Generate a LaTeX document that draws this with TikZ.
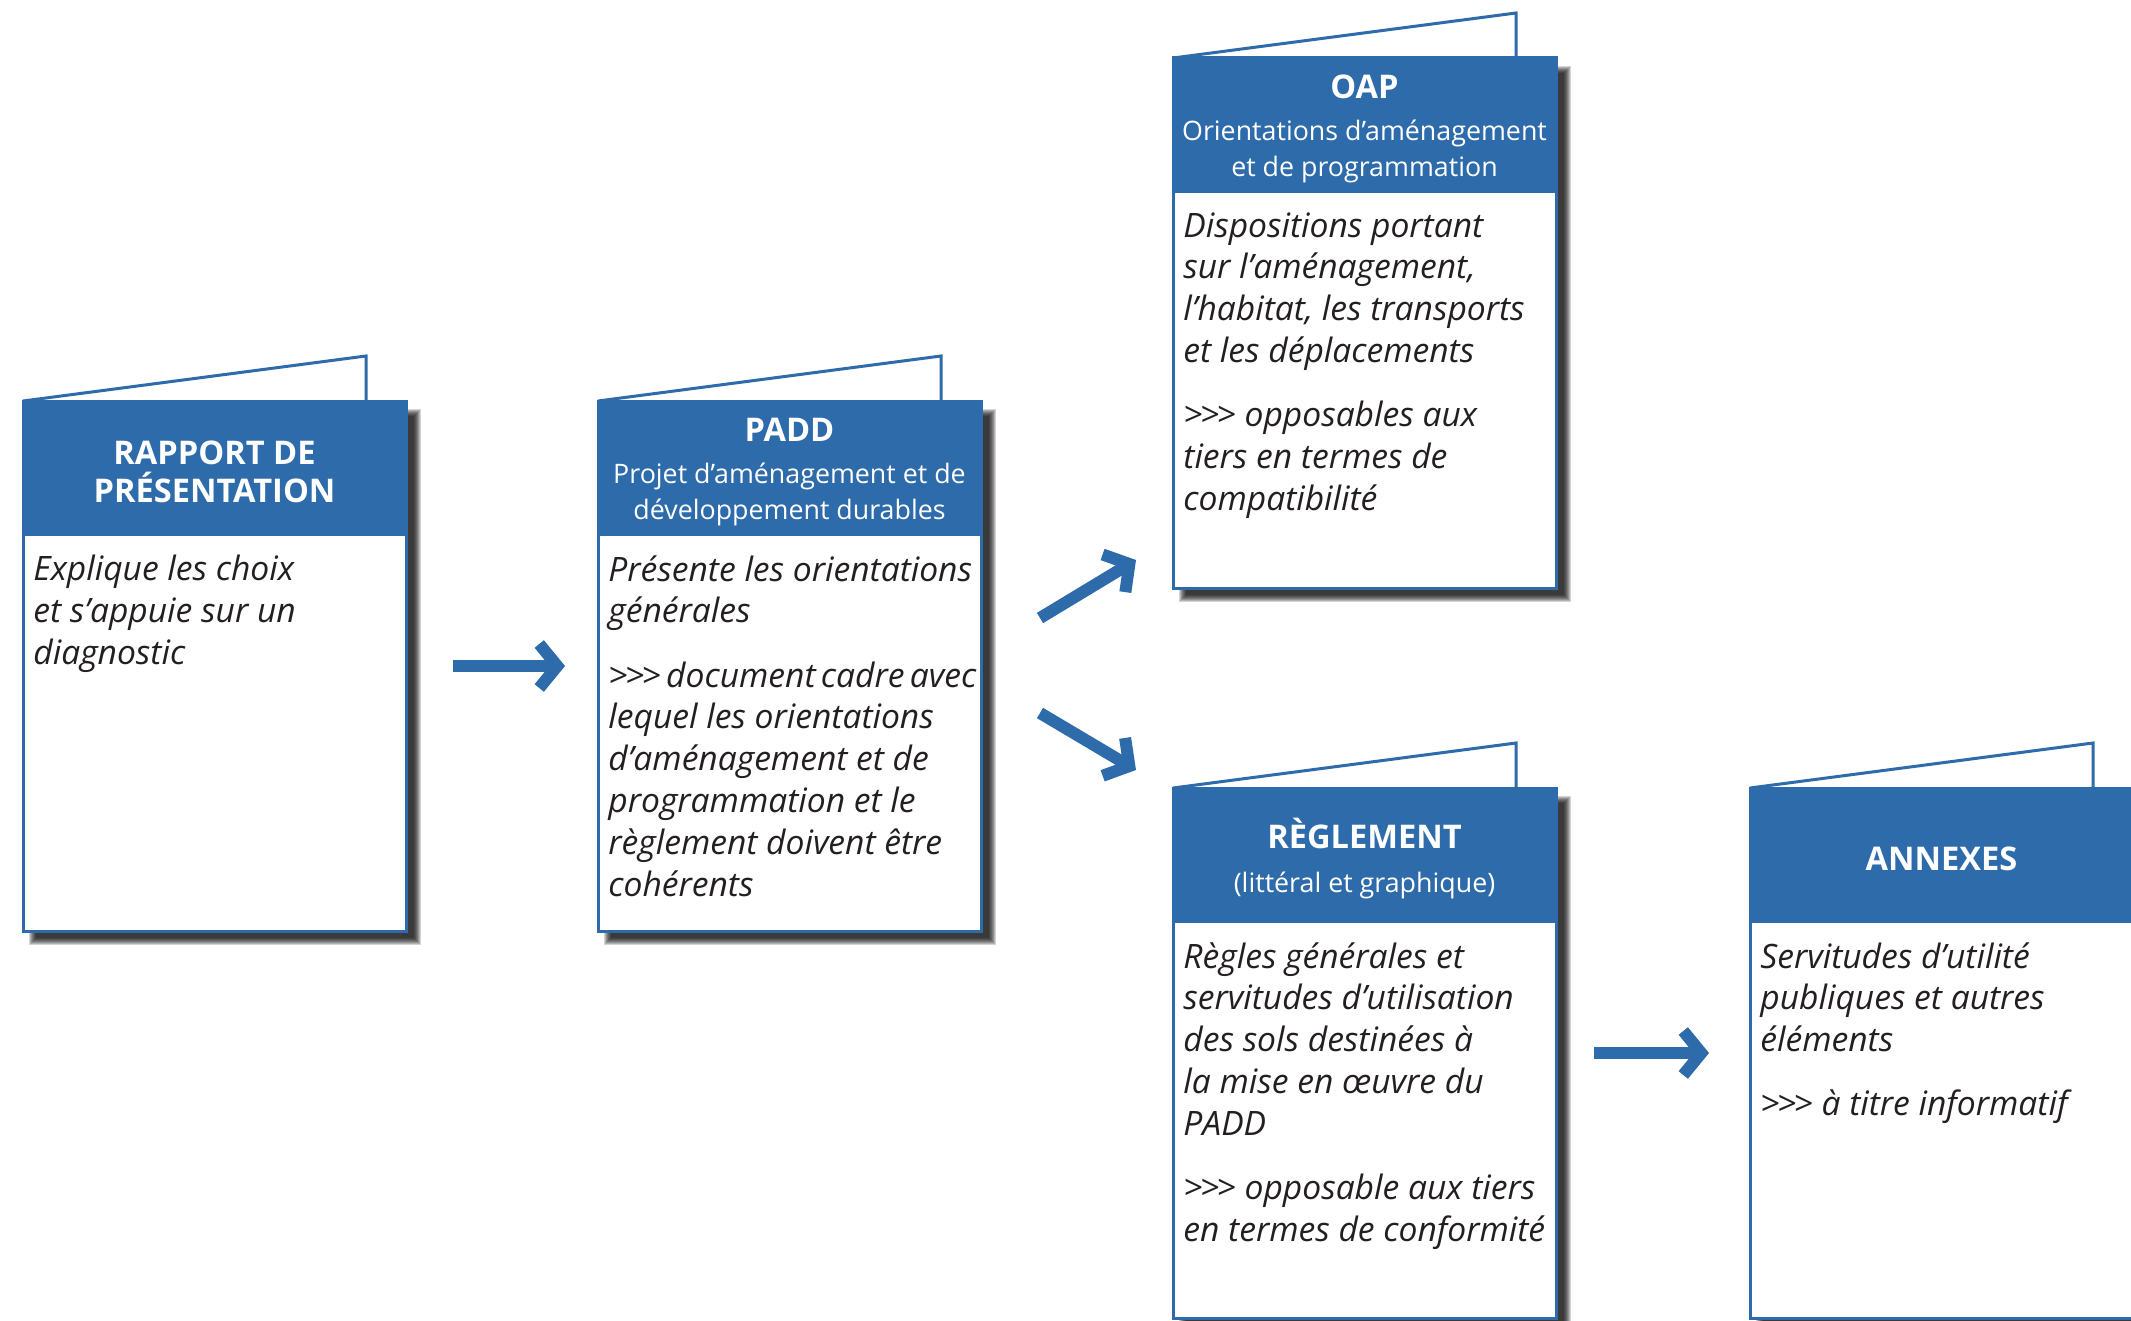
\documentclass[tikz,border=0pt]{standalone}
\usepackage{fontspec}
\setmainfont{Open Sans}
\usetikzlibrary{arrows.meta,calc}
\definecolor{myblue}{RGB}{46,107,170}
\definecolor{textgray}{RGB}{35,31,32}
\newcommand\hbig{\fontsize{16.3pt}{19pt}\selectfont\bfseries}
\newcommand\hsmall{\fontsize{13.4pt}{17.7pt}\selectfont\mdseries}
\newcommand\gtrs{>\kern-1.3pt>\kern-1.3pt>}
\newcommand\tsp{\hspace{0.16em}}
\newcommand\cardshadow[4]{%
  \foreach \k in {0,...,7}{\fill[black,opacity=0.17] (#1+6+\k,#2+8+\k) rectangle (#3+15-\k,#4+14-\k);}}
\newcommand\drawcard[5]{%
  \cardshadow{#2}{#3}{#2+383}{#3+530}
  \draw[flap] (#2,#3) -- (#2+343,#3-45) -- (#2+343,#3);
  \node[card] (#1) at (#2,#3) {};
  \node[head] (#1head) at (#2-1.5,#3-1.5) {};
  \node[headtext] (#1title) at ($(#1head.center)+(0,4)$) {#4};
  \node[body] (#1text) at (#2+10,#3+154) {#5};
}
\begin{document}
\begin{tikzpicture}[x=0.5pt,y=-0.5pt,
  card/.style={draw=myblue,line width=1.5pt,fill=white,inner sep=0pt,outer sep=0pt,anchor=north west,minimum width=191.5pt,minimum height=265pt},
  head/.style={fill=myblue,inner sep=0pt,outer sep=0pt,anchor=north west,minimum width=193pt,minimum height=68.25pt},
  headtext/.style={text=white,inner sep=0pt,align=center,font=\hbig},
  flap/.style={draw=myblue,line width=1.5pt,fill=white,line join=miter},
  body/.style={anchor=north west,inner sep=0pt,align=left,text=textgray,font=\fontsize{16.8pt}{20.9pt}\selectfont\itshape},
  bigarrow/.style={draw=myblue,line width=6pt,-{Straight Barb[length=9pt,width=22pt]}},
]
\useasboundingbox (0,0) rectangle (2131,1321);
\clip (0,0) rectangle (2131,1321);

\drawcard{rapport}{23}{401}{RAPPORT DE\\PRÉSENTATION}{Explique les choix\\et s’appuie sur un\\diagnostic}
\drawcard{padd}{598}{401}{PADD\\[2pt]\hsmall Projet d’aménagement et de\\[-1pt]\hsmall développement durables}{Présente les orientations\\générales\\[11.2pt]\gtrs\tsp document\tsp cadre\tsp avec\\lequel les orientations\\d’aménagement et de\\programmation et le\\règlement doivent être\\cohérents}
\drawcard{oap}{1173}{58}{OAP\\[2pt]\hsmall Orientations d’aménagement\\[-1pt]\hsmall et de programmation}{Dispositions portant\\sur l’aménagement,\\l’habitat, les transports\\et les déplacements\\[11.2pt]\gtrs{} opposables aux\\tiers en termes de\\compatibilité}
\drawcard{reglement}{1173}{788}{RÈGLEMENT\\[3pt]\hsmall (littéral et graphique)}{Règles générales et\\servitudes d’utilisation\\des sols destinées à\\la mise en œuvre du\\PADD\\[11.2pt]\gtrs{} opposable aux tiers\\en termes de conformité}
\drawcard{annexes}{1750}{788}{ANNEXES}{Servitudes d’utilité\\publiques et autres\\éléments\\[11.2pt]\gtrs{} à titre informatif}

\coordinate (upstart) at (1040,618);
\coordinate (upend) at (1136,560);
\coordinate (downstart) at (1040,713);
\coordinate (downend) at (1136,770);

\draw[bigarrow, shorten <=23.5pt, shorten >=16.5pt] (rapport.east) -- (padd.west);
\draw[bigarrow] (upstart) -- (upend);
\draw[bigarrow] (downstart) -- (downend);
\draw[bigarrow, shorten <=19pt, shorten >=20.5pt] (reglement.east) -- (annexes.west);
\end{tikzpicture}
\end{document}
